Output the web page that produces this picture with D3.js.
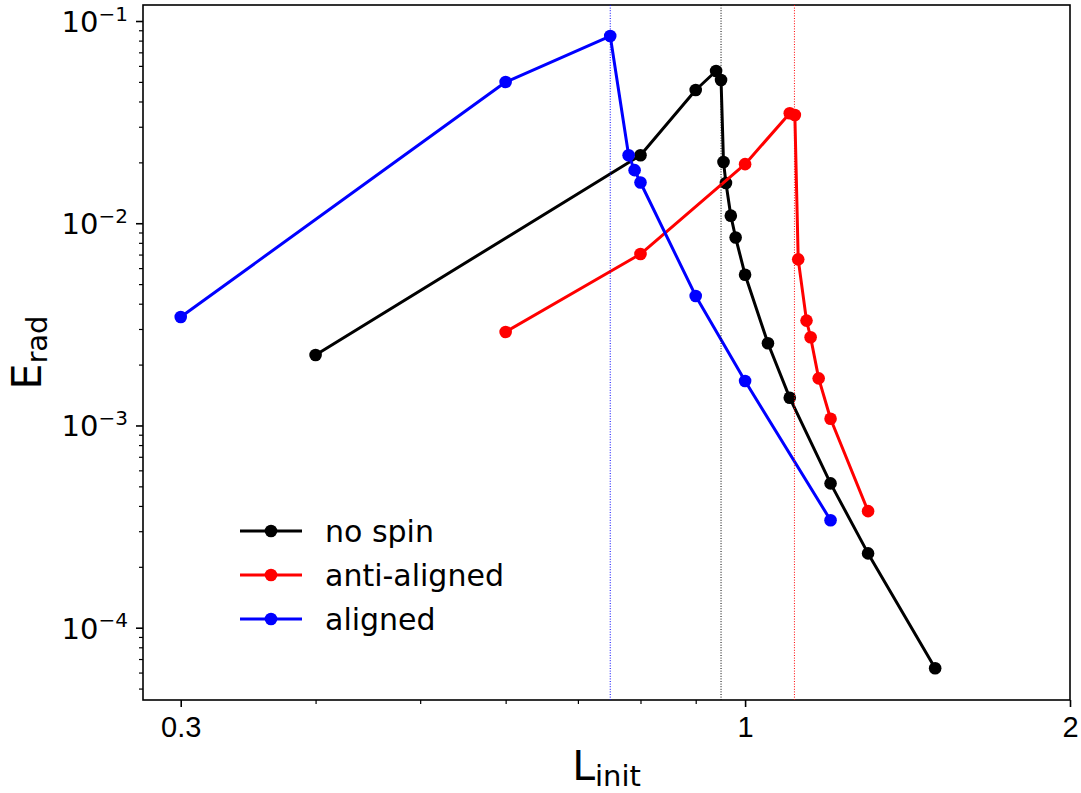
<!DOCTYPE html>
<html>
<head>
<meta charset="utf-8">
<script src="https://cdn.jsdelivr.net/npm/d3@7"></script>
<style>
  body { margin: 0; background: #fff; }
  svg { font-family: "DejaVu Sans", sans-serif; }
</style>
</head>
<body>
<div id="chart"></div>
<script>
// data
var noSpinL = [0.4, 0.8, 0.9, 0.94, 0.95, 0.955, 0.96, 0.97, 0.98, 1.0, 1.05, 1.1, 1.2, 1.3, 1.5];
var noSpinE = [2.23e-3, 2.17e-2, 4.56e-2, 5.66e-2, 5.11e-2, 2.01e-2, 1.58e-2, 1.09e-2, 8.5e-3, 5.56e-3, 2.55e-3, 1.37e-3, 5.17e-4, 2.33e-4, 6.3e-5];

var antiL = [0.6, 0.8, 1.0, 1.1, 1.112, 1.12, 1.14, 1.15, 1.17, 1.2, 1.3];
var antiE = [2.9e-3, 7.04e-3, 1.96e-2, 3.5e-2, 3.43e-2, 6.63e-3, 3.3e-3, 2.73e-3, 1.71e-3, 1.08e-3, 3.77e-4];

var alignedL = [0.3, 0.6, 0.75, 0.78, 0.79, 0.8, 0.9, 1.0, 1.2];
var alignedE = [3.44e-3, 4.99e-2, 8.43e-2, 2.17e-2, 1.83e-2, 1.59e-2, 4.37e-3, 1.66e-3, 3.4e-4];

var seriesNames = ["no spin", "anti-aligned", "aligned"];
var seriesColors = ["#000000", "#ff0000", "#0000ff"];

// dotted vertical markers
var vLineL = [0.75, 0.95, 1.111];
var vLineColors = ["#0000ff", "#000000", "#ff0000"];

var xMajor = [0.3, 1, 2];
var xMinor = [0.4, 0.5, 0.6, 0.7, 0.8, 0.9];
var yMajor = [1e-4, 1e-3, 1e-2, 1e-1];
var yExp = ["\u22124", "\u22123", "\u22122", "\u22121"];

// 0.size
var svgW = 1081, svgH = 793;
var margin = {top: 5, right: 11, bottom: 93, left: 143};
var w = svgW - margin.left - margin.right;
var h = svgH - margin.top - margin.bottom;

var svgBG = d3.select("#chart").append("svg").attr("width", svgW).attr("height", svgH);
var svg = svgBG.append("g").attr("transform", "translate(" + margin.left + "," + margin.top + ")");

// 1.scales
var x = d3.scaleLog().domain([0.2768, 2]).range([0, w]);
var y = d3.scaleLog().domain([4.39e-5, 0.12]).range([h, 0]);

var yMinor = [];
[1e-5, 1e-4, 1e-3, 1e-2, 1e-1].forEach(function (d) {
    for (var k = 2; k <= 9; k++) {
        var v = d * k;
        if (v >= y.domain()[0] && v <= y.domain()[1]) yMinor.push(v);
    }
});

// 2.axes
var xAxis = svg.append("g").attr("transform", "translate(0," + h + ")")
    .call(d3.axisBottom(x).tickValues(xMajor).tickSize(7).tickPadding(7).tickFormat(d3.format("")));
var xAxisMinor = svg.append("g").attr("transform", "translate(0," + h + ")")
    .call(d3.axisBottom(x).tickValues(xMinor).tickSize(4).tickFormat(""));
var yAxis = svg.append("g")
    .call(d3.axisLeft(y).tickValues(yMajor).tickSize(7).tickFormat(""));
var yAxisMinor = svg.append("g")
    .call(d3.axisLeft(y).tickValues(yMinor).tickSize(4).tickFormat(""));

[xAxis, xAxisMinor, yAxis, yAxisMinor].forEach(function (a) {
    a.select(".domain").remove();
    a.selectAll(".tick line").attr("stroke", "#000").attr("stroke-width", 1.6);
});
xAxisMinor.selectAll(".tick line").attr("stroke-width", 1.2);
yAxisMinor.selectAll(".tick line").attr("stroke-width", 1.2);

xAxis.selectAll(".tick text")
    .attr("fill", "#000")
    .style("font-size", "29px")
    .attr("y", 14).attr("dy", "0.79em");

// y labels as 10^n
yMajor.forEach(function (d, i) {
    var t = svg.append("text")
        .attr("x", -15)
        .attr("y", y(d) + 11)
        .attr("text-anchor", "end")
        .style("font-size", "29px")
        .attr("fill", "#000");
    t.append("tspan").text("10");
    t.append("tspan").text(yExp[i]).style("font-size", "20px").attr("dy", -11.5);
});

// frame
svg.append("rect").attr("width", w).attr("height", h)
    .attr("fill", "none").attr("stroke", "#000").attr("stroke-width", 1.6);

// 3.series
var series = [
    {name: seriesNames[0], color: seriesColors[0], L: noSpinL, E: noSpinE},
    {name: seriesNames[1], color: seriesColors[1], L: antiL, E: antiE},
    {name: seriesNames[2], color: seriesColors[2], L: alignedL, E: alignedE}
];

var line = d3.line().x(function (d) { return x(d[0]); }).y(function (d) { return y(d[1]); });

series.forEach(function (s) {
    var pts = s.L.map(function (l, i) { return [l, s.E[i]]; });
    var g = svg.append("g");
    g.append("path").datum(pts)
        .attr("d", line)
        .attr("fill", "none")
        .attr("stroke", s.color)
        .attr("stroke-width", 3)
        .attr("stroke-linejoin", "round");
    g.selectAll("circle").data(pts).enter().append("circle")
        .attr("cx", function (d) { return x(d[0]); })
        .attr("cy", function (d) { return y(d[1]); })
        .attr("r", 6.3)
        .attr("fill", s.color);
});

// vertical dotted lines
svg.selectAll(".vline").data(vLineL).enter().append("line")
    .attr("class", "vline")
    .attr("x1", function (d) { return x(d); })
    .attr("x2", function (d) { return x(d); })
    .attr("y1", 0).attr("y2", h)
    .attr("stroke", function (d, i) { return vLineColors[i]; })
    .attr("stroke-width", 1)
    .attr("stroke-dasharray", "1,1.6");

// 4.legend
var legend = svg.append("g").attr("transform", "translate(97,526)");
series.forEach(function (s, i) {
    var row = legend.append("g").attr("transform", "translate(0," + (i * 44) + ")");
    row.append("line").attr("x1", 0).attr("x2", 62).attr("y1", 0).attr("y2", 0)
        .attr("stroke", s.color).attr("stroke-width", 3);
    row.append("circle").attr("cx", 31).attr("cy", 0).attr("r", 6.3).attr("fill", s.color);
    row.append("text").attr("x", 85).attr("y", 10.5)
        .style("font-size", "30px").attr("fill", "#000")
        .text(s.name);
});

// 5.axis labels
var xl = svgBG.append("text")
    .attr("x", margin.left + w / 2)
    .attr("y", 780)
    .attr("text-anchor", "middle")
    .style("font-size", "41px")
    .attr("fill", "#000");
xl.append("tspan").text("L");
xl.append("tspan").text("init").style("font-size", "29px").attr("dy", 6);

var yl = svgBG.append("text")
    .attr("transform", "translate(41," + (margin.top + h / 2) + ") rotate(-90)")
    .attr("text-anchor", "middle")
    .style("font-size", "41px")
    .attr("fill", "#000");
yl.append("tspan").text("E");
yl.append("tspan").text("rad").style("font-size", "29px").attr("dy", 6);
</script>
</body>
</html>
